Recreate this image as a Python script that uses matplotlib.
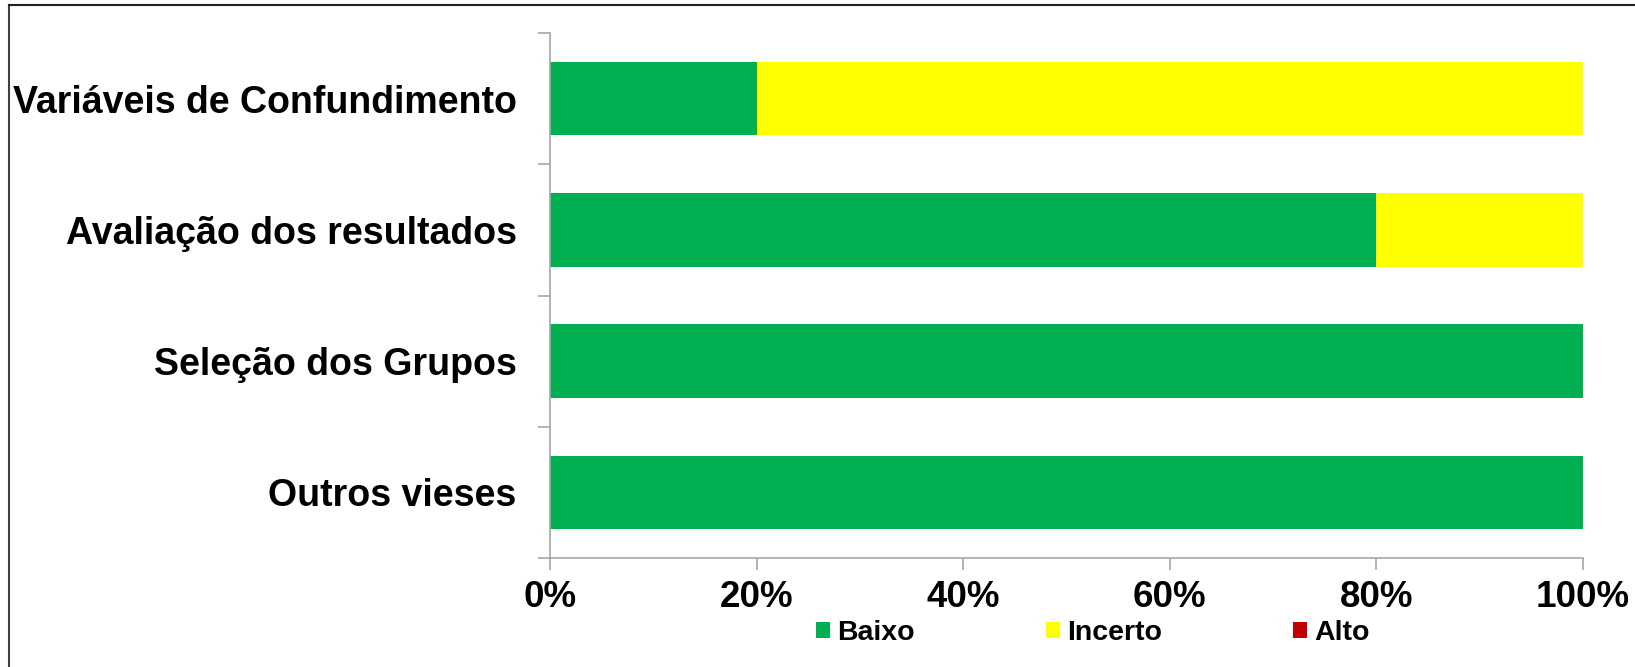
import numpy as np
import matplotlib
matplotlib.use("Agg")
import matplotlib.pyplot as plt
from matplotlib.lines import Line2D

plt.rcParams['font.family'] = ['Liberation Sans', 'DejaVu Sans']

# data (percent of studies per risk level)
categories = ['Variáveis de Confundimento', 'Avaliação dos resultados',
              'Seleção dos Grupos', 'Outros vieses']
baixo = [20, 80, 100, 100]
incerto = [80, 20, 0, 0]
alto = [0, 0, 0, 0]
series_names = ['Baixo', 'Incerto', 'Alto']
colors = ['#00B050', '#FFFF00', '#C00000']
xticks = [0, 20, 40, 60, 80, 100]

fig = plt.figure(figsize=(16.35, 6.67), dpi=100)
ax = fig.add_axes([0.3364, 0.1634, 0.6318, 0.7871])

y = np.arange(len(categories))
left = np.zeros(len(categories))
for vals, name, c in zip([baixo, incerto, alto], series_names, colors):
    ax.barh(y, vals, left=left, height=0.56, color=c, label=name,
            edgecolor='none')
    left += np.array(vals)

ax.set_ylim(len(categories) - 0.5, -0.5)
ax.set_xlim(0, 100)

ax.set_yticks(y)
ax.set_yticklabels(categories, fontsize=27, fontweight='bold')
ax.set_yticks(np.arange(-0.5, len(categories)), minor=True)
ax.tick_params(axis='y', which='major', length=0, pad=24)
ax.tick_params(axis='y', which='minor', length=8.5, width=1.2, color='#A6A6A6')

ax.set_xticks(xticks)
ax.set_xticklabels([f'{v}%' for v in xticks], fontsize=26.5, fontweight='bold')
ax.tick_params(axis='x', length=8.5, width=1.2, color='#A6A6A6', pad=7)

for s in ['top', 'right']:
    ax.spines[s].set_visible(False)
for s in ['left', 'bottom']:
    ax.spines[s].set_color('#A6A6A6')
    ax.spines[s].set_linewidth(1.2)

fig.legend(loc='center', bbox_to_anchor=(0.6685, 0.051), ncol=3,
           frameon=False, prop={'size': 20.5, 'weight': 'bold'},
           handlelength=0.5, handleheight=0.5, handletextpad=0.25,
           columnspacing=4.6, borderaxespad=0)

# outer frame (only top and left visible in the crop)
fig.add_artist(Line2D([9 / 1635, 9 / 1635], [0, 1 - 5 / 667],
                      transform=fig.transFigure, color='#404040', lw=1.5))
fig.add_artist(Line2D([9 / 1635, 1], [1 - 5 / 667, 1 - 5 / 667],
                      transform=fig.transFigure, color='#202020', lw=1.5))

fig.savefig('out.png', dpi=100)
